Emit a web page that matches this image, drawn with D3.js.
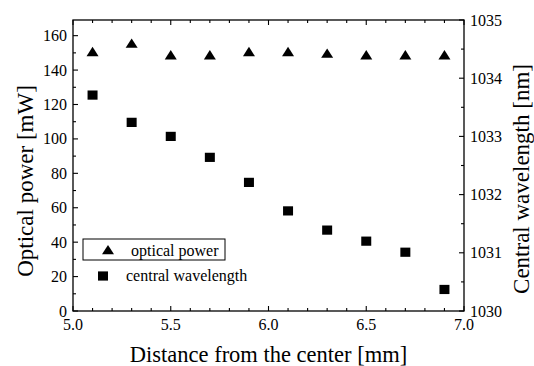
<!DOCTYPE html>
<html><head><meta charset="utf-8">
<script src="https://cdn.jsdelivr.net/npm/d3@7"></script>
<style>body{margin:0;background:#fff}svg{display:block}
svg text{font-family:"Times New Roman","Liberation Serif","Tinos","Nimbus Roman","DejaVu Serif",serif !important}</style>
</head><body><svg id="c" width="534" height="366"></svg>
<script>
const distance = [5.1, 5.3, 5.5, 5.7, 5.9, 6.1, 6.3, 6.5, 6.7, 6.9];
const opticalPower = [150.6, 155.5, 148.7, 148.7, 150.6, 150.6, 149.7, 148.7, 148.7, 148.7];
const centralWavelength = [1033.71, 1033.24, 1033.00, 1032.64, 1032.21, 1031.72, 1031.39, 1031.20, 1031.01, 1030.37];
const xTicks = [5.0, 5.5, 6.0, 6.5, 7.0];
const leftTicks = [0, 20, 40, 60, 80, 100, 120, 140, 160];
const rightTicks = [1030, 1031, 1032, 1033, 1034, 1035];
const legendLabels = ["optical power", "central wavelength"];

const svg = d3.select("#c");
const L = 73, R = 464, T = 20, B = 311;
const x = d3.scaleLinear().domain([5, 7]).range([L, R]);
const yL = d3.scaleLinear().domain([0, 169.1]).range([B, T]);
const yR = d3.scaleLinear().domain([1030, 1035]).range([B, T]);

function txt(sel, size) {
  return sel.style("font-size", size + "px").attr("fill", "#000");
}

// frame
svg.append("rect").attr("x", L).attr("y", T).attr("width", R - L).attr("height", B - T)
  .attr("fill", "none").attr("stroke", "#000").attr("stroke-width", 1.3);

const g = svg.append("g").attr("stroke", "#000").attr("stroke-width", 1.1);
d3.range(5.0, 7.0001, 0.1).forEach(v => {
  const major = Math.abs(v * 2 - Math.round(v * 2)) < 1e-6;
  const len = major ? 5 : 3;
  g.append("line").attr("x1", x(v)).attr("x2", x(v)).attr("y1", B).attr("y2", B - len);
  g.append("line").attr("x1", x(v)).attr("x2", x(v)).attr("y1", T).attr("y2", T + len);
});
d3.range(0, 169, 10).forEach(v => {
  const len = v % 20 === 0 ? 5 : 3;
  g.append("line").attr("x1", L).attr("x2", L + len).attr("y1", yL(v)).attr("y2", yL(v));
});
d3.range(1030, 1035.001, 0.5).forEach(v => {
  const len = Number.isInteger(v) ? 5 : 3;
  g.append("line").attr("x1", R).attr("x2", R - len).attr("y1", yR(v)).attr("y2", yR(v));
});

// tick labels
txt(svg.append("g").selectAll("text").data(xTicks).join("text")
  .attr("x", d => x(d)).attr("y", 330).attr("text-anchor", "middle"), 16).text(d => d.toFixed(1));
txt(svg.append("g").selectAll("text").data(leftTicks).join("text")
  .attr("x", 67).attr("y", d => yL(d) + 5.5).attr("text-anchor", "end"), 16).text(d => d);
txt(svg.append("g").selectAll("text").data(rightTicks).join("text")
  .attr("x", 470).attr("y", d => yR(d) + 5.5).attr("text-anchor", "start"), 16).text(d => d);

// titles
txt(svg.append("text").attr("x", (L + R) / 2).attr("y", 362).attr("text-anchor", "middle"), 22.5)
  .text("Distance from the center [mm]");
txt(svg.append("text").attr("transform", "translate(33,181) rotate(-90)").attr("text-anchor", "middle"), 23)
  .text("Optical power [mW]");
txt(svg.append("text").attr("transform", "translate(529,179) rotate(-90)").attr("text-anchor", "middle"), 23)
  .text("Central wavelength [nm]");

// markers
const tri = (cx, cy) => `M${cx - 6},${cy + 4.3}L${cx + 6},${cy + 4.3}L${cx},${cy - 5}Z`;
const sq = (cx, cy) => `M${cx - 5},${cy - 4.6}h10v9.2h-10Z`;
svg.append("g").selectAll("path").data(distance).join("path")
  .attr("d", (d, i) => tri(x(d), yL(opticalPower[i]))).attr("fill", "#000");
svg.append("g").selectAll("path").data(distance).join("path")
  .attr("d", (d, i) => sq(x(d), yR(centralWavelength[i]))).attr("fill", "#000");

// legend
svg.append("rect").attr("x", 83).attr("y", 239).attr("width", 142).attr("height", 21)
  .attr("fill", "#fff").attr("stroke", "#000").attr("stroke-width", 1);
svg.append("path").attr("d", tri(108, 250)).attr("fill", "#000");
txt(svg.append("text").attr("x", 131).attr("y", 255.5), 16).text(legendLabels[0]);
svg.append("path").attr("d", sq(103, 276)).attr("fill", "#000");
txt(svg.append("text").attr("x", 126).attr("y", 281), 16).text(legendLabels[1]);
</script></body></html>
